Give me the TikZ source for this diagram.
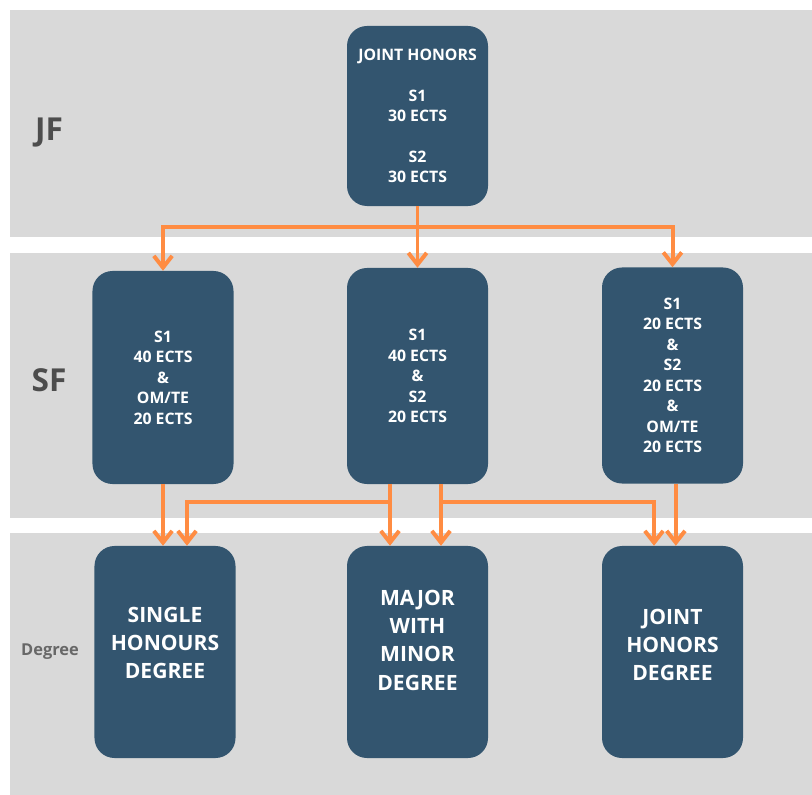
\documentclass[tikz,border=0pt]{standalone}
\usepackage{fontspec}
\setmainfont{Open Sans}
\usetikzlibrary{arrows.meta}

\definecolor{boxblu}{HTML}{33556F}
\definecolor{arancio}{HTML}{FF8C42}
\definecolor{fascia}{HTML}{D9D9D9}
\definecolor{etich}{HTML}{4D4D4D}

\tikzset{
  box/.style={rectangle, rounded corners=0.6cm, fill=boxblu, text=white, align=center,
    font=\bfseries\fontsize{13.5}{17.5}\selectfont, minimum width=4.23cm},
  grado/.style={box, minimum height=6.36cm, font=\bfseries\fontsize{18}{24}\selectfont},
  freccia/.style={draw=arancio, line width=3.4pt, -{Straight Barb[length=3.5mm,width=5.5mm]}},
  anno/.style={text=etich, font=\bfseries\fontsize{27}{30}\selectfont}
}

\begin{document}
\begin{tikzpicture}[x=0.03cm, y=-0.03cm]
        \useasboundingbox (0,0) rectangle (812,795);

        % fasce
        \fill[fascia] (10,10) rectangle (812,237);
        \fill[fascia] (10,253) rectangle (812,518);
        \fill[fascia] (10,533) rectangle (812,795);

        % etichette
        \node[anno] (jf) at (49,133) {JF};
        \node[anno] (sf) at (49,380) {SF};
        \node[anno, text=etich!85, font=\bfseries\fontsize{14}{17}\selectfont] (deg) at (50,652) {Degree};

        % Posizioni dei nodi
        \node[box, minimum height=5.4cm] (jh) at (417.5,116) {JOINT HONORS\\[17pt]S1\\30 ECTS\\[17pt]S2\\30 ECTS};
        \node[box, minimum height=6.39cm] (sf1) at (163,377.5) {S1\\40 ECTS\\\&\\OM/TE\\20 ECTS};
        \node[box, minimum height=6.48cm] (sf2) at (417.5,376) {S1\\40 ECTS\\\&\\S2\\20 ECTS};
        \node[box, minimum height=6.48cm] (sf3) at (672.5,375.5) {S1\\20 ECTS\\\&\\S2\\20 ECTS\\\&\\OM/TE\\20 ECTS};
        \node[grado] (sh) at (165,652) {SINGLE\\HONOURS\\DEGREE\\[-8pt]\mbox{}};
        \node[grado] (mm) at (417.5,652) {MAJOR\\WITH\\MINOR\\DEGREE\\[-4pt]\mbox{}};
        \node[grado] (jhd) at (672.5,652) {JOINT\\HONORS\\DEGREE\\[-12pt]\mbox{}};

        \coordinate (split) at (417.5,227);
        \coordinate (ramoA) at (390,502);
        \coordinate (ramoB) at (441,502);

        % Archi
        \draw[freccia] (jh.south) -- (jh.south |- sf2.north);
        \draw[freccia] (split) -| (sf1.north);
        \draw[freccia] (split) -| (sf3.north);

        \draw[freccia] (sf1.south) -- (sf1.south |- sh.north);
        \draw[freccia] (sf2.south -| ramoA) -- (ramoA) -| ([xshift=0.66cm]sh.north);
        \draw[freccia] (sf2.south -| ramoA) -- (mm.north -| ramoA);
        \draw[freccia] (sf2.south -| ramoB) -- (mm.north -| ramoB);
        \draw[freccia] (sf2.south -| ramoB) -- (ramoB) -| ([xshift=-0.555cm]jhd.north);
        \draw[freccia] ([xshift=0.1cm]sf3.south) -- ([xshift=0.1cm]sf3.south |- jhd.north);
    \end{tikzpicture}
\end{document}
